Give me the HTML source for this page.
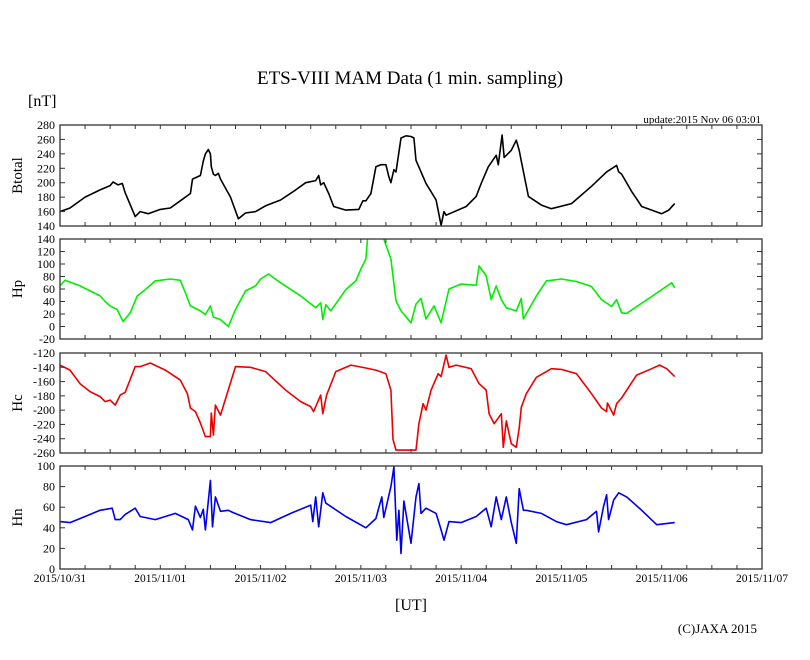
<!DOCTYPE html>
<html><head><meta charset="utf-8"><style>
body{margin:0;background:#fff}
svg text{font-family:"Liberation Serif",serif;fill:#000}
</style></head><body>
<svg id="c" width="810" height="655" viewBox="0 0 810 655" xmlns="http://www.w3.org/2000/svg">
<text x="410" y="84" font-size="19" text-anchor="middle">ETS-VIII MAM Data (1 min. sampling)</text>
<text x="28" y="106" font-size="16">[nT]</text>
<text x="761" y="123" font-size="11" text-anchor="end">update:2015 Nov 06 03:01</text>
<text x="411" y="610" font-size="16" text-anchor="middle">[UT]</text>
<text x="757" y="633" font-size="13" text-anchor="end">(C)JAXA 2015</text>
<g id="g"></g>
</svg>
<script>
const dayLabels=["2015/10/31","2015/11/01","2015/11/02","2015/11/03","2015/11/04","2015/11/05","2015/11/06","2015/11/07"];
const btT=[0,2.4,6,9.6,12,12.7,13.9,14.9,15.6,18,19.2,21.1,24,26.4,28.8,31.2,31.7,33.6,34.3,34.8,35.5,36,36.2,36.7,37.2,37.9,38.4,40.8,42.7,44.4,46.8,49.2,52.8,56.4,58.8,61.2,61.9,62.4,63.1,64.3,65.5,68.4,71.5,72.5,73.2,74.4,75.6,76.8,78,78.7,79.2,79.9,80.4,81.1,81.6,82.8,84,84.7,85.2,87.6,90,91.2,91.9,92.4,97.2,99.6,100.8,102.5,104.4,104.9,105.8,106.3,108,109.2,109.9,110.4,112.1,115.2,117.6,122.4,127.2,130.8,133.2,133.7,134.4,136.8,139.2,144,145.7,147.1];
const btV=[160,165,180,190,196,201,197,199,186,153,160,157,163,165,175,185,205,210,230,240,246,240,222,212,210,213,205,180,150,158,160,168,176,190,200,203,210,197,200,185,167,162,163,175,175,185,222,225,225,208,200,218,215,242,262,265,264,262,231,199,176,141,160,155,167,181,199,222,238,225,266,235,245,259,245,230,181,169,164,171,195,215,224,215,212,188,167,157,162,171];
const hpT=[0,1.2,4.8,9.6,10.8,12,13.7,15.1,16.8,18.5,20.4,22.8,26.4,28.8,30,31.2,33.6,34.8,36,36.7,38.4,40.3,42,44.4,46.8,48,49.9,52.8,57.6,61.2,62.4,62.9,63.6,64.8,68.4,70.8,72,73.2,73.7,76.8,77.5,79.2,80.4,81.6,84,85.2,86.4,87.6,89.5,91.2,93.1,96,99.6,100.3,102,103.2,104.4,105.6,106.8,109.2,110.4,110.9,114,116.4,120,123.6,127.2,129.6,132,133.2,134.4,135.6,141.6,146.4,147.1];
const hpV=[65,74,65,49,40,33,27,8,22,49,59,73,76,74,54,33,25,19,33,15,11,0,27,57,65,76,84,70,49,30,38,11,35,25,59,73,92,108,150,150,140,108,41,25,6,36,45,12,33,6,60,68,66,97,81,43,65,43,30,25,45,12,49,73,76,72,64,43,32,43,22,21,48,70,62];
const hcT=[0,2.4,4.8,7.2,9.6,10.8,12,13.2,14.4,15.6,18,19.2,21.6,25.2,28.8,30.5,31.2,32.4,33.6,34.8,36,36.2,36.7,37.2,38.4,42,45.6,49.2,54,57.6,60,60.7,62.4,62.9,63.8,66,69.6,73.2,75.6,78,79.2,79.7,80.4,85.2,85.9,86.9,87.6,88.8,90.5,91.2,92.4,93.1,94.8,98.4,100.3,102,102.7,103.9,105.6,106.1,106.8,108,109.2,109.9,110.4,111.6,114,117.6,120,123.6,127.2,129.6,130.8,131,132.5,133.2,134.4,138,141.6,143.5,145.2,147.1];
const hcV=[-137,-144,-163,-174,-181,-188,-186,-193,-179,-175,-139,-139,-134,-144,-158,-177,-197,-202,-218,-237,-237,-204,-235,-193,-207,-139,-140,-146,-172,-188,-195,-202,-179,-205,-179,-146,-137,-141,-144,-149,-172,-241,-256,-256,-219,-191,-200,-172,-149,-153,-123,-140,-137,-142,-163,-172,-205,-219,-205,-252,-215,-247,-252,-225,-196,-177,-154,-142,-143,-149,-177,-197,-202,-190,-207,-191,-183,-151,-142,-137,-142,-153];
const hnT=[0,2.4,6,9.6,12.5,13.2,14.4,15.6,18,19.2,22.8,27.6,30.7,31.7,32.4,33.6,34.3,34.8,36,36.5,37.2,38.4,40.3,41.3,45.6,50.4,55.2,60,60.5,61.2,61.9,62.9,63.6,68.4,73.2,75.6,77,77.5,79.2,79.9,80.6,81.1,81.6,82.3,84,85.2,85.9,86.4,87.6,90,91.2,91.9,93.1,96,99.6,102,103.2,104.4,105.6,106.8,108,109.2,109.9,110.9,111.6,115.2,118.8,121.2,126,128.4,128.9,130.1,130.8,131.3,132.5,133.7,135.6,139.2,142.8,147.1];
const hnV=[46,45,51,57,59,48,48,53,59,51,48,54,48,38,61,50,58,38,86,41,70,56,57,55,48,45,54,62,46,70,41,74,64,51,40,49,70,50,80,99,28,57,15,66,25,70,83,54,59,54,38,28,46,45,51,59,41,70,48,70,45,25,78,57,57,54,46,43,48,56,36,61,72,48,67,74,70,57,43,45];
const btTicks=[140,160,180,200,220,240,260,280];
const hpTicks=[-20,0,20,40,60,80,100,120,140];
const hcTicks=[-260,-240,-220,-200,-180,-160,-140,-120];
const hnTicks=[0,20,40,60,80,100];

const NS="http://www.w3.org/2000/svg";
const g=document.getElementById('g');
const X0=60,X1=762,HMAX=168;
const xs=h=>X0+h/HMAX*(X1-X0);
function el(t,a){const e=document.createElementNS(NS,t);for(const k in a)e.setAttribute(k,a[k]);g.appendChild(e);return e;}
const panels=[
 {name:'btotal',title:'Btotal',top:125,bot:226,min:140,max:280,ticks:btTicks,t:btT,v:btV,color:'#000'},
 {name:'hp',title:'Hp',top:239,bot:339,min:-20,max:140,ticks:hpTicks,t:hpT,v:hpV,color:'#00ee00'},
 {name:'hc',title:'Hc',top:353,bot:453,min:-260,max:-120,ticks:hcTicks,t:hcT,v:hcV,color:'#ee0000'},
 {name:'hn',title:'Hn',top:466,bot:569,min:0,max:100,ticks:hnTicks,t:hnT,v:hnV,color:'#0000ee'}
];
panels.forEach((p,i)=>{
 const ys=v=>p.bot-(v-p.min)/(p.max-p.min)*(p.bot-p.top);
 const cp=el('clipPath',{id:'cp'+i});
 
 
 const r=document.createElementNS(NS,'rect');r.setAttribute('x',X0);r.setAttribute('y',p.top);r.setAttribute('width',X1-X0);r.setAttribute('height',p.bot-p.top);cp.appendChild(r);
 let d='';
 p.t.forEach((h,j)=>{d+=(j?'L':'M')+xs(h).toFixed(1)+','+ys(p.v[j]).toFixed(1);});
 const line=el('path',{d:d,fill:'none',stroke:p.color,'stroke-width':1.6,'stroke-linejoin':'round','clip-path':'url(#cp'+i+')'});
 
 
 const box=el('rect',{x:X0,y:p.top,width:X1-X0,height:p.bot-p.top,fill:'none',stroke:'#333','stroke-width':1.3});
 
 
 p.ticks.forEach(v=>{
  const y=ys(v);
  const tl=el('line',{x1:X0,x2:X0+5,y1:y,y2:y,stroke:'#333'});
  
  
  const tr=el('line',{x1:X1-5,x2:X1,y1:y,y2:y,stroke:'#333'});
  
  
  const tx=el('text',{x:X0-5,y:y+4,'font-size':12,'text-anchor':'end'});
  
  
  tx.textContent=v;
 });
 for(let h=6;h<HMAX;h+=6){
  const x=xs(h);
  const a=el('line',{x1:x,x2:x,y1:p.top,y2:p.top+4,stroke:'#333'});
  
  
  const b=el('line',{x1:x,x2:x,y1:p.bot-4,y2:p.bot,stroke:'#333'});
  
  
 }
 const yt=el('text',{x:0,y:0,'font-size':15,'text-anchor':'middle',transform:'translate(22,'+((p.top+p.bot)/2)+') rotate(-90)'});
 
 
 yt.textContent=p.title;
});
dayLabels.forEach((s,i)=>{
 const t=el('text',{x:xs(i*24),y:582,'font-size':11.5,'text-anchor':'middle'});
 
 
 t.textContent=s;
});
</script>
</body></html>
